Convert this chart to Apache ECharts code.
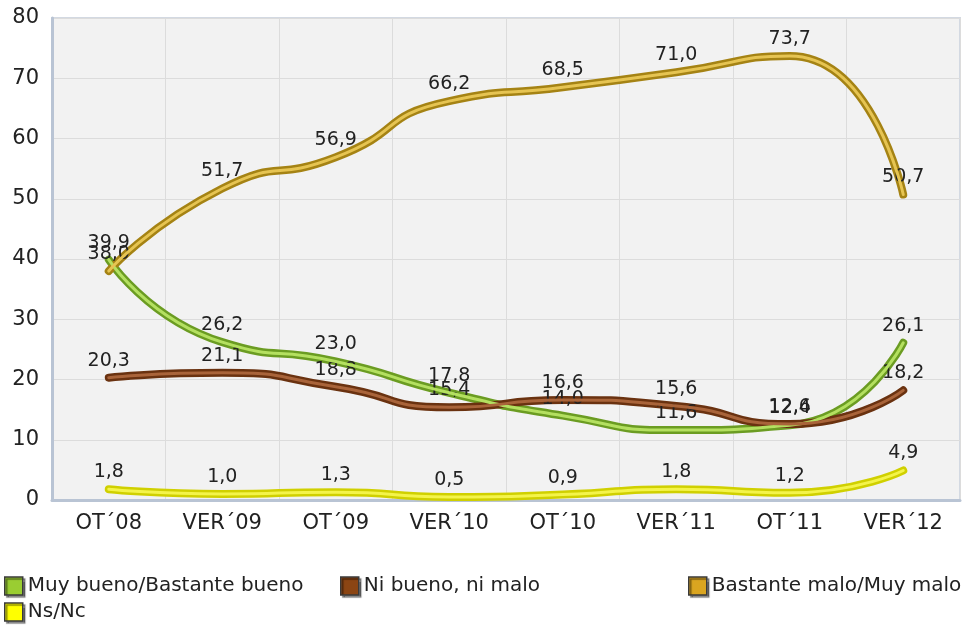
<!DOCTYPE html>
<html>
<head>
<meta charset="utf-8">
<script src="https://cdn.jsdelivr.net/npm/echarts@6/dist/echarts.min.js"></script>
<style>
  html, body { margin: 0; padding: 0; background: #ffffff; }
  #chart { width: 966px; height: 629px; }
</style>
</head>
<body>
<div id="chart"></div>
<script>
// Survey waves
const categories = ['OT´08', 'VER´09', 'OT´09', 'VER´10', 'OT´10', 'VER´11', 'OT´11', 'VER´12'];

// Opinion shares (%) per wave
const muyBueno = [39.9, 26.2, 23.0, 17.8, 14.0, 11.6, 12.4, 26.1];
const niBueno = [20.3, 21.1, 18.8, 15.4, 16.6, 15.6, 12.6, 18.2];
const bastanteMalo = [38.0, 51.7, 56.9, 66.2, 68.5, 71.0, 73.7, 50.7];
const nsNc = [1.8, 1.0, 1.3, 0.5, 0.9, 1.8, 1.2, 4.9];

const yTicks = [0, 10, 20, 30, 40, 50, 60, 70, 80];

const FONT = 'DejaVu Sans';
const SMOOTH = 0.6;

const seriesDefs = [
  { name: 'Muy bueno/Bastante bueno', data: muyBueno, icon: '#9acd32', edge: '#6b9c22', core: '#b4e060' },
  { name: 'Ni bueno, ni malo', data: niBueno, icon: '#8b4513', edge: '#6a3210', core: '#a9643a' },
  { name: 'Bastante malo/Muy malo', data: bastanteMalo, icon: '#daa520', edge: '#a58314', core: '#e6c452' },
  { name: 'Ns/Nc', data: nsNc, icon: '#ffff00', edge: '#d0d000', core: '#f4f44a' }
];

const fmt = v => v.toFixed(1).replace('.', ',');

const series = [];
// thick outer strokes carrying the value labels
seriesDefs.forEach(d => {
  series.push({
    name: d.name,
    type: 'line',
    data: d.data,
    smooth: SMOOTH,
    symbol: 'circle',
    symbolSize: 1,
    showSymbol: true,
    itemStyle: { color: 'rgba(0,0,0,0)', borderWidth: 0 },
    lineStyle: { color: d.edge, width: 8, cap: 'round' },
    label: {
      show: true,
      position: 'top',
      distance: 7,
      formatter: p => fmt(p.value),
      fontFamily: FONT,
      fontSize: 19,
      color: '#222222'
    },
    labelLayout: { hideOverlap: false },
    z: 2
  });
});
// lighter inner stripe giving the tube look
seriesDefs.forEach(d => {
  series.push({
    name: d.name + ' ',
    type: 'line',
    data: d.data,
    smooth: SMOOTH,
    symbol: 'none',
    silent: true,
    lineStyle: { color: d.core, width: 3, cap: 'round' },
    z: 3
  });
});

// one legend block per entry so each sits where it belongs
const legendAt = (i, left, top) => ({
  orient: 'horizontal',
  left: left,
  top: top,
  data: [seriesDefs[i].name],
  icon: 'rect',
  itemWidth: 18,
  itemHeight: 18,
  itemGap: 4,
  padding: 0,
  selectedMode: false,
  textStyle: { fontFamily: FONT, fontSize: 20, color: '#222222' },
  itemStyle: {
    color: seriesDefs[i].icon,
    borderColor: '#3a3a3a',
    borderWidth: 1.5,
    shadowColor: 'rgba(0,0,0,0.45)',
    shadowOffsetX: 2,
    shadowOffsetY: 2,
    shadowBlur: 1
  }
});

const chart = echarts.init(document.getElementById('chart'));
chart.setOption({
  animation: false,
  backgroundColor: '#ffffff',
  grid: {
    left: 52, right: 6, top: 18, bottom: 129,
    show: true,
    backgroundColor: '#f2f2f2',
    borderColor: '#d3d9e2',
    borderWidth: 2
  },
  xAxis: {
    type: 'category',
    data: categories,
    boundaryGap: true,
    axisLine: { show: true, lineStyle: { color: '#b9c4d4', width: 3 } },
    axisTick: { show: false },
    axisLabel: { fontFamily: FONT, fontSize: 21, color: '#222222', margin: 13 },
    splitLine: { show: true, lineStyle: { color: '#dcdcdc', width: 1 } }
  },
  yAxis: {
    type: 'value',
    min: yTicks[0],
    max: yTicks[yTicks.length - 1],
    interval: 10,
    axisLine: { show: true, lineStyle: { color: '#b9c4d4', width: 3 } },
    axisTick: { show: false },
    axisLabel: { fontFamily: FONT, fontSize: 21, color: '#222222', margin: 13 },
    splitLine: { show: true, lineStyle: { color: '#dcdcdc', width: 1 } }
  },
  legend: [
    legendAt(0, 4, 576),
    legendAt(1, 340, 576),
    legendAt(2, 688, 576),
    legendAt(3, 4, 602)
  ],
  series: series
});
</script>
</body>
</html>
